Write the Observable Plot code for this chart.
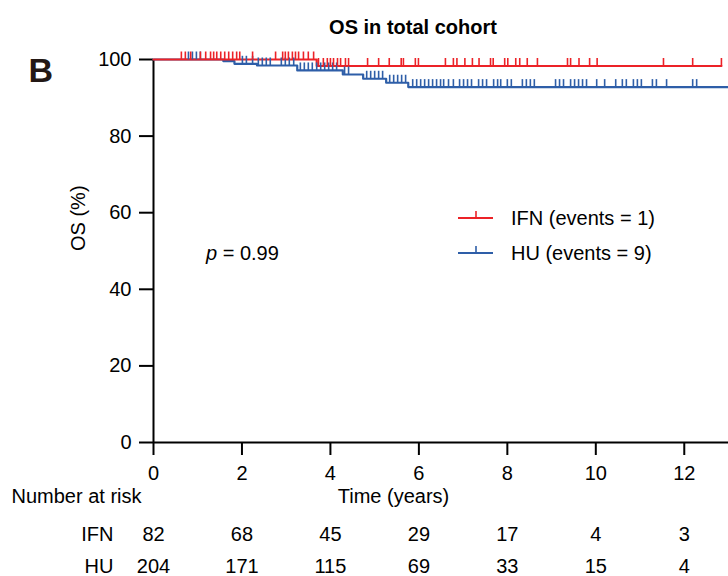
<!DOCTYPE html>
<html>
<head>
<meta charset="utf-8">
<script src="https://cdn.jsdelivr.net/npm/d3@7"></script>
<script src="https://cdn.jsdelivr.net/npm/@observablehq/plot@0.6"></script>
<style>
  body { margin: 0; background: white; font-family: "Liberation Sans", Arial, sans-serif; }
  #wrap { position: relative; width: 728px; height: 576px; overflow: hidden; }
  .ov { position: absolute; white-space: nowrap; color: #000; }
</style>
</head>
<body>
<div id="wrap"></div>
<script>
// ---- data ----
const timeTicks = [0, 2, 4, 6, 8, 10, 12];
const yTicks = [0, 20, 40, 60, 80, 100];
const riskIFN = [82, 68, 45, 29, 17, 4, 3];
const riskHU = [204, 171, 115, 69, 33, 15, 4];

const ifnEventTimes = [3.69];
const ifnEventSurv = [98.3];
const ifnEnd = 12.84;

const huEventTimes = [1.58, 1.83, 2.34, 3.25, 4.28, 4.74, 5.26, 5.76];
const huEventSurv = [99.56, 98.88, 98.44, 97.14, 96.09, 94.97, 93.93, 92.79];
const huEnd = 13.0;

const ifnCensor = [0.63, 0.72, 0.84, 1.06, 1.18, 1.29, 1.36, 1.43, 1.52, 1.61, 1.70, 1.79, 1.88, 1.95,
  2.24, 2.76, 2.92, 2.98, 3.05, 3.14, 3.21, 3.28, 3.39, 3.50, 3.62,
  3.73, 3.84, 3.93, 4.00, 4.07, 4.16, 4.23, 4.34, 4.41,
  4.84, 5.09, 5.33, 5.60, 5.65, 5.92, 5.99,
  6.60, 6.78, 6.86, 7.04, 7.21, 7.36, 7.62, 7.68, 7.94, 8.01, 8.19, 8.28, 8.45, 8.68,
  9.36, 9.43, 9.62, 9.86, 10.03, 11.53, 12.19, 12.84];

const huCensor = [0.79, 0.88, 0.97, 1.06,
  2.01, 2.10, 2.24, 2.37, 2.46, 2.55, 2.64,
  2.89, 2.98, 3.07, 3.17,
  3.32, 3.41, 3.50, 3.59, 3.69, 3.78, 3.87, 3.96, 4.05, 4.14,
  4.32, 4.41, 4.82, 4.91, 5.00, 5.09, 5.18,
  5.34, 5.43, 5.52, 5.61, 5.70,
  5.86, 5.95, 6.04, 6.13, 6.22, 6.31, 6.40, 6.49, 6.56,
  6.67, 6.78, 6.92, 7.01, 7.10, 7.19, 7.35, 7.44, 7.53, 7.69, 7.78, 7.85,
  8.00, 8.09, 8.34, 8.43, 8.52, 8.61,
  9.09, 9.18, 9.27, 9.43, 9.52, 9.61, 9.70, 9.79,
  10.02, 10.20, 10.45, 10.60, 10.69, 10.85, 10.94, 11.03, 11.28, 11.37, 11.60, 12.19, 12.28];

const RED = "#ec2227";
const BLUE = "#2e5ea8";
const FONT = "'Liberation Sans', Arial, sans-serif";

// ---- helpers building tables from the arrays ----
function stepPoints(times, surv, end, group) {
  const pts = [{t: 0, s: 100, g: group}];
  times.forEach((t, i) => pts.push({t, s: surv[i], g: group}));
  pts.push({t: end, s: surv[surv.length - 1], g: group});
  return pts;
}
function survAt(times, surv, t) {
  let s = 100;
  times.forEach((et, i) => { if (et <= t) s = surv[i]; });
  return s;
}
const ifnLine = stepPoints(ifnEventTimes, ifnEventSurv, ifnEnd, "IFN");
const huLine = stepPoints(huEventTimes, huEventSurv, huEnd, "HU");
const ifnCens = ifnCensor.map(t => ({t, s: survAt(ifnEventTimes, ifnEventSurv, t)}));
const huCens = huCensor.map(t => ({t, s: survAt(huEventTimes, huEventSurv, t)}));
const riskRows = timeTicks.flatMap((t, i) => [
  {t, n: riskIFN[i], row: "IFN"},
  {t, n: riskHU[i], row: "HU"}
]);

const tickUp = {draw(ctx) { ctx.moveTo(0, 0); ctx.lineTo(0, -8); }};

const chart = Plot.plot({
  width: 728,
  height: 576,
  marginTop: 59,
  marginBottom: 134,
  marginLeft: 153,
  marginRight: 0,
  style: {fontFamily: FONT, fontSize: "20px", color: "#000", background: "white", overflow: "visible"},
  x: {domain: [0, 13]},
  y: {domain: [0, 100]},
  marks: [
    Plot.axisX(timeTicks, {tickSize: 13, tickPadding: 10, fontSize: 20, strokeWidth: 2, label: null}),
    Plot.axisY(yTicks, {tickSize: 14, tickPadding: 8, fontSize: 20, strokeWidth: 2, label: null}),
    Plot.ruleX([0], {strokeWidth: 2}),
    Plot.ruleY([0], {strokeWidth: 2}),
    Plot.line(huLine, {x: "t", y: "s", curve: "step-after", stroke: BLUE, strokeWidth: 2.2}),
    Plot.line(ifnLine, {x: "t", y: "s", curve: "step-after", stroke: RED, strokeWidth: 2.2}),
    Plot.dot(huCens, {x: "t", y: "s", symbol: tickUp, stroke: BLUE, strokeWidth: 1.6, fill: "none"}),
    Plot.dot(ifnCens, {x: "t", y: "s", symbol: tickUp, stroke: RED, strokeWidth: 1.6, fill: "none"}),
    // number at risk table
    Plot.text(riskRows.filter(d => d.row === "IFN"), {x: "t", text: "n", frameAnchor: "bottom", dy: 98, fontSize: 20}),
    Plot.text(riskRows.filter(d => d.row === "HU"), {x: "t", text: "n", frameAnchor: "bottom", dy: 130, fontSize: 20}),
    Plot.text(["IFN"], {frameAnchor: "bottom-left", dx: -40, dy: 98, textAnchor: "end", fontSize: 20}),
    Plot.text(["HU"], {frameAnchor: "bottom-left", dx: -40, dy: 130, textAnchor: "end", fontSize: 20}),
    Plot.text(["Number at risk"], {frameAnchor: "bottom-left", dx: -142, dy: 60, textAnchor: "start", fontSize: 20}),
    Plot.text(["Time (years)"], {frameAnchor: "bottom-left", dx: 240, dy: 60, textAnchor: "middle", fontSize: 20}),
    Plot.text(["OS (%)"], {frameAnchor: "left", dx: -75, rotate: -90, fontSize: 20}),
    Plot.text(["OS in total cohort"], {frameAnchor: "top", dx: -28, dy: -40, fontSize: 20, fontWeight: "bold"}),
    Plot.text(["B"], {frameAnchor: "top-left", dx: -125, dy: -2, fontSize: 34, fontWeight: "bold", fill: "#231815"})
  ]
});

const wrap = document.getElementById("wrap");
wrap.appendChild(chart);

// legend + p-value overlays
function legendItem(color, label, top) {
  const d = document.createElement("div");
  d.className = "ov";
  d.style.left = "456px";
  d.style.top = (top - 14) + "px";
  d.style.fontSize = "20px";
  d.style.lineHeight = "28px";
  d.innerHTML = `<svg width="40" height="28" style="vertical-align:top">
      <line x1="2" x2="37" y1="14" y2="14" stroke="${color}" stroke-width="2.2"/>
      <line x1="20" x2="20" y1="14" y2="7" stroke="${color}" stroke-width="1.6"/>
    </svg><span style="margin-left:15px">${label}</span>`;
  wrap.appendChild(d);
}
legendItem(RED, "IFN (events = 1)", 218);
legendItem(BLUE, "HU (events = 9)", 253);

const pv = document.createElement("div");
pv.className = "ov";
pv.style.left = "206px";
pv.style.top = "239px";
pv.style.fontSize = "20px";
pv.style.lineHeight = "28px";
pv.innerHTML = "<i>p</i> = 0.99";
wrap.appendChild(pv);
</script>
</body>
</html>
